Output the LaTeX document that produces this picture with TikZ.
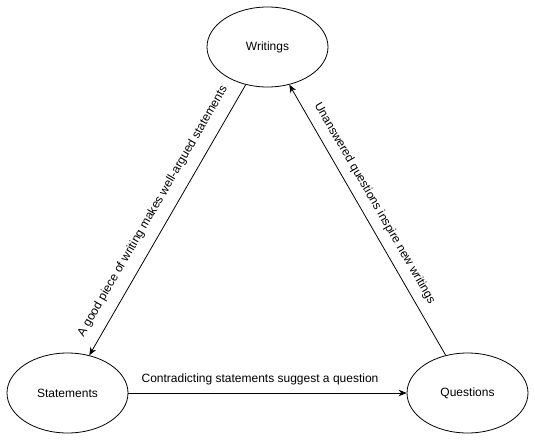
\documentclass[tikz,border=0pt]{standalone}
\usepackage{fontspec}
\setmainfont{Liberation Sans}
\usetikzlibrary{shapes.geometric,arrows.meta}
\begin{document}
\begin{tikzpicture}[x=1pt,y=-1pt,
  every node/.style={font=\fontsize{12}{14}\selectfont},
  circ/.style={ellipse,draw=black,line width=0.8pt,minimum width=121pt,minimum height=80pt,inner sep=0pt},
  conn/.style={draw=black,line width=0.8pt,-{Stealth[length=8pt,width=6.5pt]}},
  lab/.style={inner sep=2pt}]
\useasboundingbox (0,0) rectangle (535,441);
\node[circ] (W) at (267.5,47) {Writings};
\node[circ] (S) at (67.5,393) {Statements};
\node[circ] (Q) at (467.5,393) {Questions};
\draw[conn] (W) -- node[lab,sloped,above=9pt,pos=0.5] {A good piece of writing makes well-argued statements} (S);
\draw[conn] (Q) -- node[lab,sloped,above=6.5pt,pos=0.535] {Unanswered questions inspire new writings} (W);
\draw[conn] (S) -- node[lab,above=6pt,pos=0.473] {Contradicting statements suggest a question} (Q);
\end{tikzpicture}
\end{document}
